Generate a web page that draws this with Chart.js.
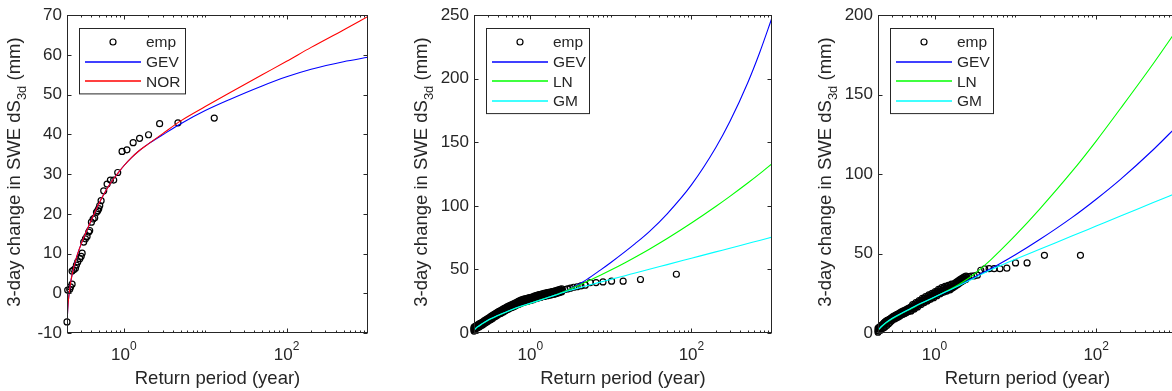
<!DOCTYPE html>
<html>
<head>
<meta charset="utf-8">
<script src="https://cdn.jsdelivr.net/npm/chart.js@4.4.1/dist/chart.umd.min.js"></script>
<style>
html, body { margin: 0; padding: 0; background: #fff; overflow: hidden; width: 1172px; height: 391px; }
canvas { position: absolute; top: 0; }
</style>
</head>
<body>
<canvas id="panel1" width="390" height="391" style="left:0px"></canvas>
<canvas id="panel2" width="390" height="391" style="left:395px"></canvas>
<canvas id="panel3" width="390" height="391" style="left:800px"></canvas>
<script>
// ---- labels / ticks ----
const X_TITLE = 'Return period (year)';
const Y_TITLE = ['3-day change in SWE dS', '3d', ' (mm)'];
const X_MAJOR_TICKS = [1, 100];
const X_MINOR_TICKS = [0.3, 0.4, 0.5, 0.6, 0.7, 0.8, 0.9, 2, 3, 4, 5, 6, 7, 8, 9, 10,
   20, 30, 40, 50, 60, 70, 80, 90, 200, 300, 400, 500, 600, 700, 800, 900];

// ---- panel 1 ----
const EMP1_T = [0.200, 0.204, 0.216, 0.221, 0.231, 0.231, 0.242, 0.254, 0.261, 0.271, 0.287, 0.299, 0.307,
   0.321, 0.337, 0.353, 0.370, 0.380, 0.399, 0.419, 0.438, 0.460, 0.477, 0.491, 0.505, 0.525, 0.565,
   0.622, 0.683, 0.750, 0.840, 0.950, 1.09, 1.30, 1.56, 2.01, 2.75, 4.62, 12.9];
const EMP1_V = [-7.2, 0.8, 1.0, 1.6, 2.3, 5.6, 5.9, 6.3, 7.1, 7.9, 8.7, 9.3, 10.1,
   12.9, 13.7, 14.3, 15.4, 15.8, 17.9, 18.7, 19.0, 20.4, 20.8, 21.3, 22.1, 23.3, 25.8,
   27.5, 28.5, 28.5, 30.4, 35.7, 36.1, 37.9, 39.0, 39.9, 42.7, 42.9, 44.1];
const FIT1_T = [0.2, 0.201, 0.203, 0.206, 0.21, 0.215, 0.22, 0.23, 0.24, 0.25, 0.27, 0.3, 0.35, 0.4, 0.5, 0.6,
   0.7, 0.85, 1, 1.25, 1.5, 2, 3, 5, 10, 20, 50, 100, 200, 500, 1000];
const GEV1 = [-9.5, -7.5, -5, -2.8, -1, 0.8, 2.3, 4.5, 6.2, 7.6, 9.9, 12.5, 15.8, 18.5, 22.8, 25.8,
   28.0, 30.3, 32.1, 34.2, 35.7, 37.6, 39.9, 42.7, 46.0, 48.8, 52.2, 54.5, 56.4, 58.3, 59.4];
const NOR1 = [-9.5, -7.5, -5, -2.8, -1, 0.8, 2.3, 4.5, 6.2, 7.6, 9.9, 12.5, 15.8, 18.5, 22.8, 25.8,
   28.0, 30.3, 32.1, 34.2, 35.7, 37.6, 40.2, 43.4, 47.0, 50.5, 55.0, 58.4, 61.9, 66.3, 69.7];

// ---- panels 2 and 3: extra rows of circles that fill the dense band ----
const BAND_T = [0.204, 0.214, 0.224, 0.234, 0.245, 0.257, 0.269, 0.282, 0.295, 0.309, 0.324, 0.339, 0.355,
   0.372, 0.389, 0.407, 0.427, 0.447, 0.468, 0.490, 0.513, 0.537, 0.562, 0.589, 0.617, 0.646, 0.676,
   0.708, 0.741, 0.776, 0.813, 0.851, 0.891, 0.933, 0.977, 1.023, 1.072, 1.122, 1.175, 1.230, 1.288,
   1.349, 1.413, 1.479, 1.549, 1.622, 1.698, 1.778, 1.862, 1.950, 2.042, 2.138, 2.239, 2.344, 2.455];

// ---- panel 2 ----
const EMP2_T = [0.200, 0.200, 0.200, 0.200, 0.203, 0.205, 0.207, 0.209, 0.212, 0.215, 0.219, 0.223,
   0.229, 0.235, 0.240, 0.246, 0.251, 0.257, 0.263, 0.269, 0.275, 0.282, 0.288, 0.295, 0.302, 0.309,
   0.316, 0.331, 0.347, 0.363, 0.380, 0.398, 0.417, 0.437, 0.457, 0.479, 0.501, 0.525, 0.550, 0.575,
   0.603, 0.631, 0.661, 0.692, 0.724, 0.759, 0.794, 0.832, 0.871, 0.912, 0.955, 1.000, 1.047, 1.096,
   1.148, 1.202, 1.259, 1.318, 1.380, 1.445, 1.514, 1.585, 1.660, 1.738, 1.820, 1.905, 1.995, 2.089,
   2.188, 2.291, 2.399, 2.512, 2.68, 2.89, 3.14, 3.45, 3.81, 4.25, 4.81, 5.55, 6.55, 7.98, 10.2, 14.2,
   23.3, 65];
const EMP2_V = [1.5, 2.5, 3.5, 4.5, 2.8, 4.0, 3.6, 4.2, 4.4, 5.2, 5.0, 5.6,
   5.7, 6.2, 6.4, 6.8, 7.0, 7.5, 7.9, 8.4, 8.8, 9.2, 9.6, 10.1, 10.5, 11.0,
   11.4, 12.2, 13.0, 13.8, 14.6, 15.3, 16.0, 16.6, 17.3, 18.1, 18.8, 19.5, 20.1, 20.8,
   21.5, 22.0, 22.6, 23.1, 23.8, 24.4, 25.0, 25.3, 25.6, 26.0, 26.3, 26.6, 27.0, 27.4,
   27.8, 28.2, 28.7, 29.1, 29.3, 29.6, 29.9, 30.3, 30.6, 30.8, 31.1, 31.3, 31.6, 32.0,
   32.4, 32.8, 33.3, 33.7, 34.2, 34.7, 35.3, 36.0, 36.4, 37.0, 37.6, 39.7, 39.7, 40.2, 40.8, 40.8,
   42.1, 46.2];
const BAND2_V = [5.1, 3.5, 6.6, 5.0, 8.0, 6.5, 9.7, 8.2, 11.4, 9.9, 13.0, 11.5, 14.6,
   13.1, 16.2, 14.7, 17.7, 16.1, 19.1, 17.5, 20.5, 18.8, 21.8, 20.1, 23.0, 21.3, 24.2,
   22.5, 25.4, 23.7, 26.5, 24.5, 27.1, 25.1, 27.8, 25.8, 28.5, 26.7, 29.4, 27.5, 30.2,
   28.2, 30.8, 28.8, 31.4, 29.4, 32.0, 29.9, 32.5, 30.5, 33.1, 31.2, 34.0, 32.1, 34.8];
const BAND2B_V = [2.8, 5.9, 4.3, 7.3, 5.7, 8.8, 7.4, 10.5, 9.1, 12.2, 10.7, 13.8, 12.3,
   15.4, 13.9, 17.0, 15.4, 18.4, 16.8, 19.8, 18.2, 21.1, 19.5, 22.4, 20.7, 23.6, 21.9,
   24.8, 23.1, 26.0, 24.2, 26.8, 24.8, 27.4, 25.5, 28.1, 26.2, 29.0, 27.1, 29.8, 27.9,
   30.5, 28.5, 31.1, 29.1, 31.7, 29.7, 32.2, 30.2, 32.8, 30.8, 33.5, 31.7, 34.4, 32.5];
const FIT2_T = [0.2, 0.21, 0.22, 0.25, 0.3, 0.4, 0.5, 0.7, 1, 1.5, 2, 3, 4, 5, 7.4, 10, 15, 20, 30, 50,
   100, 200, 300, 500, 700, 1000];
const GEV2 = [2.2, 3.5, 4.6, 7.0, 10.0, 13.8, 16.4, 20.1, 23.3, 27.1, 29.7, 34.3, 38.4, 42, 49.5, 55.5, 64, 70.3, 79.8, 93.8,
   116.5, 145.7, 166.3, 196.9, 220.3, 248];
const LN2 = [2.2, 3.5, 4.6, 7.0, 10.0, 13.8, 16.4, 20.1, 23.3, 27.1, 29.7, 34.1, 37.5, 40.3, 45.4, 49.5, 55.3, 59.6, 65.9, 74.3,
   86.5, 99.5, 107.5, 118.0, 125.2, 133.1];
const GM2 = [2.4, 3.7, 4.8, 7.2, 10.2, 14.0, 16.6, 20.2, 23.4, 27.0, 29.6, 33.2, 35.5, 37.2, 40.0, 42.2, 45.1, 47.2, 50.1, 53.8,
   58.8, 63.8, 66.7, 70.4, 72.8, 75.4];

// ---- panel 3 ----
const EMP3_T = [0.200, 0.200, 0.200, 0.203, 0.206, 0.209, 0.213, 0.217, 0.222, 0.229, 0.235, 0.240,
   0.246, 0.251, 0.257, 0.263, 0.269, 0.275, 0.282, 0.288, 0.295, 0.302, 0.316, 0.331, 0.347, 0.363,
   0.380, 0.398, 0.417, 0.437, 0.457, 0.479, 0.501, 0.525, 0.550, 0.575, 0.603, 0.631, 0.661, 0.692,
   0.724, 0.759, 0.794, 0.832, 0.871, 0.912, 0.955, 1.000, 1.047, 1.096, 1.148, 1.202, 1.259, 1.318,
   1.380, 1.445, 1.514, 1.585, 1.660, 1.738, 1.820, 1.905, 1.995, 2.089, 2.188, 2.291, 2.399, 2.512,
   2.64, 2.85, 3.10, 3.39, 3.74, 4.18, 4.74, 5.46, 6.44, 7.85, 10.06, 13.98, 22.9, 63.9];
const EMP3_V = [0.5, 1.5, 3.0, 2.5, 3.5, 3.0, 4.0, 4.5, 4.8, 5.5, 6.0, 6.6,
   7.0, 7.4, 7.8, 8.0, 8.3, 8.5, 8.8, 9.0, 9.2, 9.5, 10.2, 10.8, 11.3, 11.8,
   12.3, 12.8, 13.3, 13.8, 14.3, 14.8, 15.3, 15.8, 16.3, 16.9, 17.5, 18.2, 18.9, 19.6,
   20.2, 20.9, 21.5, 22.0, 22.6, 23.1, 23.6, 24.0, 24.6, 25.2, 25.8, 26.4, 26.8, 27.2,
   27.6, 28.0, 28.4, 28.8, 29.2, 29.8, 30.5, 31.3, 32.0, 32.7, 33.4, 34.0, 34.6, 35.0,
   35.5, 35.8, 36.0, 36.4, 39.5, 40.3, 40.5, 40.5, 40.5, 40.8, 44.1, 44.1, 48.9, 48.9];
const BAND3_V = [3.3, 1.9, 4.6, 3.2, 5.9, 4.7, 7.7, 6.7, 9.7, 8.5, 11.0, 9.6, 12.1,
   10.7, 13.3, 11.8, 14.3, 12.8, 15.4, 13.9, 16.5, 15.1, 17.7, 16.4, 19.0, 17.7, 20.4,
   19.1, 21.6, 20.2, 22.8, 21.3, 23.8, 22.3, 24.8, 23.4, 26.1, 24.7, 27.3, 25.8, 28.2,
   26.6, 29.0, 27.3, 29.7, 28.0, 30.6, 29.3, 32.0, 30.7, 33.4, 32.1, 34.7, 33.3, 35.8];
const BAND3B_V = [1.3, 3.9, 2.6, 5.2, 3.9, 6.7, 5.7, 8.7, 7.7, 10.5, 9.0, 11.6, 10.1,
   12.7, 11.3, 13.8, 12.3, 14.8, 13.4, 15.9, 13.9, 17.8, 15.1, 19.1, 16.4, 20.4, 17.8,
   21.8, 19.0, 22.9, 20.2, 24.0, 21.2, 25.0, 22.2, 26.1, 23.5, 27.4, 24.7, 28.5, 25.6,
   29.3, 26.4, 30.0, 27.1, 30.7, 28.6, 31.3, 30.0, 32.7, 31.4, 34.1, 32.7, 35.3, 33.8];
const FIT3_T = [0.2, 0.21, 0.22, 0.25, 0.3, 0.4, 0.5, 0.7, 1, 1.5, 2, 3, 5, 6.5, 10, 20, 50, 100, 200, 500, 1000];
const GEV3 = [1.5, 2.7, 3.8, 6.2, 9.0, 12.5, 15.0, 18.8, 22.5, 26.8, 30.0, 34.7, 40.6, 43.7, 49.2, 58.8, 72.6, 84.2, 96.7, 115, 130.2];
const LN3 = [1.5, 2.7, 3.8, 6.2, 9.0, 12.5, 15.0, 18.8, 22.5, 27.0, 30.5, 36.5, 46.2, 51.8, 61.4, 78.0, 101.5, 120.8, 141.3, 169, 191];
const GM3 = [1.8, 3.0, 4.1, 6.5, 9.3, 12.8, 15.3, 19.0, 22.6, 26.8, 29.8, 34.2, 39.8, 42.4, 46.4, 52.7, 61.0, 67.3, 73.6, 81.9, 88.2];

const FONT = '"Liberation Sans", Arial, Helvetica, sans-serif';
const INK = '#262626';

// legend entries per panel (drawn by the plugin below)
const LEGENDS = {
   panel1: { width: 106, items: [['emp', null], ['GEV', '#0000ff'], ['NOR', '#ff0000']] },
   panel2: { width: 103, items: [['emp', null], ['GEV', '#0000ff'], ['LN', '#00ff00'], ['GM', '#00ffff']] },
   panel3: { width: 103, items: [['emp', null], ['GEV', '#0000ff'], ['LN', '#00ff00'], ['GM', '#00ffff']] }
};

function toPoints(xs, ys) {
   return xs.map((x, i) => ({ x: x, y: ys[i] }));
}

// MATLAB-like box, inward ticks, 10^n labels, titles and legend
const matlabAxes = {
   id: 'matlabAxes',
   afterDraw(chart) {
      const ctx = chart.ctx;
      const a = chart.chartArea;
      const xs = chart.scales.x;
      const ys = chart.scales.y;
      const L = Math.round(a.left) + 0.5, R = Math.round(a.right) - 0.5;
      const T = Math.round(a.top) + 0.5, B = Math.round(a.bottom) - 0.5;
      ctx.save();
      ctx.strokeStyle = INK;
      ctx.lineWidth = 1;
      ctx.strokeRect(L, T, R - L, B - T);

      ctx.beginPath();
      ys.ticks.forEach(t => {
         const y = Math.round(ys.getPixelForValue(t.value)) + 0.5;
         ctx.moveTo(L, y); ctx.lineTo(L + 4, y);
         ctx.moveTo(R, y); ctx.lineTo(R - 4, y);
      });
      const xTick = (v, len) => {
         if (v <= xs.min || v >= xs.max) return;
         const x = Math.round(xs.getPixelForValue(v)) + 0.5;
         ctx.moveTo(x, B); ctx.lineTo(x, B - len);
         ctx.moveTo(x, T); ctx.lineTo(x, T + len);
      };
      X_MINOR_TICKS.forEach(v => xTick(v, 2));
      X_MAJOR_TICKS.forEach(v => xTick(v, 4));
      ctx.stroke();

      // x tick labels 10^n
      ctx.fillStyle = INK;
      ctx.textBaseline = 'alphabetic';
      ctx.textAlign = 'left';
      X_MAJOR_TICKS.forEach(v => {
         const ex = String(Math.round(Math.log10(v)));
         ctx.font = '17px ' + FONT;
         const wb = ctx.measureText('10').width;
         ctx.font = '12px ' + FONT;
         const we = ctx.measureText(ex).width;
         const x0 = xs.getPixelForValue(v) - (wb + we) / 2;
         ctx.font = '17px ' + FONT;
         ctx.fillText('10', x0, a.bottom + 27);
         ctx.font = '12px ' + FONT;
         ctx.fillText(ex, x0 + wb, a.bottom + 17);
      });

      // x title
      ctx.font = '18.5px ' + FONT;
      ctx.textAlign = 'center';
      ctx.fillText(X_TITLE, (a.left + a.right) / 2, a.bottom + 51);

      // y title with subscript
      ctx.textAlign = 'left';
      const mainFont = '18.5px ' + FONT, subFont = '13px ' + FONT;
      ctx.font = mainFont;
      const w1 = ctx.measureText(Y_TITLE[0]).width, w3 = ctx.measureText(Y_TITLE[2]).width;
      ctx.font = subFont;
      const w2 = ctx.measureText(Y_TITLE[1]).width;
      ctx.save();
      ctx.translate(a.left - 47, (a.top + a.bottom) / 2 - 2);
      ctx.rotate(-Math.PI / 2);
      let x = -(w1 + w2 + w3) / 2;
      ctx.font = mainFont; ctx.fillText(Y_TITLE[0], x, 0); x += w1;
      ctx.font = subFont; ctx.fillText(Y_TITLE[1], x, 6); x += w2;
      ctx.font = mainFont; ctx.fillText(Y_TITLE[2], x, 0);
      ctx.restore();

      // legend
      const lg = LEGENDS[chart.canvas.id];
      const bx = Math.round(a.left + 12) + 0.5, by = 28.5;
      const rowH = 19.7;
      const bh = 14 + rowH * (lg.items.length - 1) + 12;
      ctx.fillStyle = '#fff';
      ctx.fillRect(bx, by, lg.width, bh);
      ctx.strokeStyle = INK;
      ctx.lineWidth = 1;
      ctx.strokeRect(bx, by, lg.width, bh);
      ctx.font = '15.5px ' + FONT;
      ctx.textBaseline = 'middle';
      lg.items.forEach((it, i) => {
         const y = by + 13.5 + i * rowH;
         if (it[1] === null) {
            ctx.strokeStyle = '#000';
            ctx.lineWidth = 1.2;
            ctx.beginPath();
            ctx.arc(a.left + 46, y, 3, 0, Math.PI * 2);
            ctx.stroke();
         } else {
            ctx.strokeStyle = it[1];
            ctx.lineWidth = 1.3;
            ctx.beginPath();
            ctx.moveTo(a.left + 18, Math.round(y));
            ctx.lineTo(a.left + 74, Math.round(y));
            ctx.stroke();
         }
         ctx.fillStyle = INK;
         ctx.fillText(it[0], a.left + 79, y + 1);
      });
      ctx.restore();
   }
};

function CreatePanel(canvasId, yAxisWidth, rightPad, yMin, yMax, yStep, datasets) {
   new Chart(document.getElementById(canvasId), {
      type: 'scatter',
      data: { datasets: datasets },
      options: {
         responsive: false,
         maintainAspectRatio: false,
         animation: false,
         devicePixelRatio: 1,
         events: [],
         layout: { padding: { left: 0, right: rightPad, top: 14, bottom: 0 } },
         scales: {
            x: {
               type: 'logarithmic',
               min: 0.2,
               max: 1000,
               grid: { display: false, drawTicks: false },
               border: { display: false },
               ticks: { display: false },
               afterFit: s => { s.height = 58; }
            },
            y: {
               type: 'linear',
               min: yMin,
               max: yMax,
               grid: { display: false, drawTicks: false },
               border: { display: false },
               ticks: { stepSize: yStep, padding: 5, color: INK, font: { family: FONT, size: 17 } },
               afterFit: s => { s.width = yAxisWidth; }
            }
         },
         plugins: {
            legend: { display: false },
            tooltip: { enabled: false }
         }
      },
      plugins: [matlabAxes]
   });
}

function empSet(ts, vs) {
   return {
      label: 'emp', data: toPoints(ts, vs), showLine: false, pointRadius: 3,
      pointBorderColor: '#000', pointBackgroundColor: 'rgba(0,0,0,0)', pointBorderWidth: 1.2,
      clip: false, order: 10
   };
}
function fitSet(label, ts, vs, color, order) {
   return {
      label: label, data: toPoints(ts, vs), showLine: true, pointRadius: 0,
      borderColor: color, borderWidth: 1.1, cubicInterpolationMode: 'monotone', order: order
   };
}

CreatePanel('panel1', 67, 22, -10, 70, 10, [
   empSet(EMP1_T, EMP1_V),
   fitSet('GEV', FIT1_T, GEV1, '#0000ff', 3),
   fitSet('NOR', FIT1_T, NOR1, '#ff0000', 2)
]);

CreatePanel('panel2', 79, 13, 0, 250, 50, [
   empSet(EMP2_T, EMP2_V),
   empSet(BAND_T, BAND2_V),
   empSet(BAND_T, BAND2B_V),
   fitSet('GEV', FIT2_T, GEV2, '#0000ff', 4),
   fitSet('LN', FIT2_T, LN2, '#00ff00', 3),
   fitSet('GM', FIT2_T, GM2, '#00ffff', 2)
]);

CreatePanel('panel3', 78, 13, 0, 200, 50, [
   empSet(EMP3_T, EMP3_V),
   empSet(BAND_T, BAND3_V),
   empSet(BAND_T, BAND3B_V),
   fitSet('GEV', FIT3_T, GEV3, '#0000ff', 4),
   fitSet('LN', FIT3_T, LN3, '#00ff00', 3),
   fitSet('GM', FIT3_T, GM3, '#00ffff', 2)
]);
</script>
</body>
</html>
